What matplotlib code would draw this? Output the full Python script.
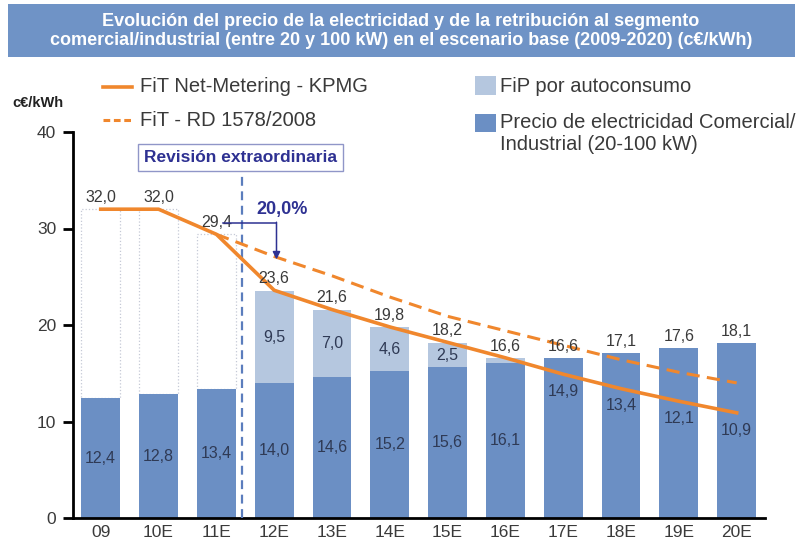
#!/usr/bin/env python3
"""Evolucion del precio de la electricidad vs retribucion (segmento comercial/industrial)."""

import matplotlib

matplotlib.use("Agg")
import matplotlib.pyplot as plt
import numpy as np
from matplotlib import font_manager
from matplotlib.lines import Line2D
from matplotlib.patches import Rectangle

plt.rcParams["font.family"] = ["Liberation Sans", "DejaVu Sans"]

YEARS = ["09", "10E", "11E", "12E", "13E", "14E", "15E", "16E", "17E", "18E", "19E", "20E"]
PRECIO = [12.4, 12.8, 13.4, 14.0, 14.6, 15.2, 15.6, 16.1, 16.6, 17.1, 17.6, 18.1]
FIP = [0.0, 0.0, 0.0, 9.5, 7.0, 4.6, 2.5, 0.5, 0.0, 0.0, 0.0, 0.0]
FIT_KPMG = [32.0, 32.0, 29.4, 23.6, 21.6, 19.8, 18.2, 16.6, 14.9, 13.4, 12.1, 10.9]
# RD 1578/2008 line, from 11E onward
FIT_RD = [29.4, 27.1, 25.1, 22.9, 20.9, 19.4, 17.9, 16.4, 15.1, 14.0]
TOP_LABELS = [32.0, 32.0, 29.4, 23.6, 21.6, 19.8, 18.2, 16.6, 16.6, 17.1, 17.6, 18.1]

DARK = "#6b8fc4"
LIGHT = "#b5c7df"
ORANGE = "#f0872d"
NAVY = "#2e3192"
VLINE = "#5b7dbd"
TXT = "#3a3a3a"
INNER = "#2f3a55"


def fmt(v):
    return f"{v:.1f}".replace(".", ",")


def narrow_font():
    try:
        font_manager.findfont("Liberation Sans Narrow", fallback_to_default=False)
        return ["Liberation Sans Narrow", "DejaVu Sans"]
    except Exception:
        return ["Liberation Sans", "DejaVu Sans"]


def main():
    W, H = 803, 542
    fig = plt.figure(figsize=(W / 100, H / 100), dpi=100)

    def fx(px):
        return px / W

    def fy(py):
        return 1 - py / H

    ax = fig.add_axes([fx(73), fy(518), (765 - 73) / W, (518 - 132) / H])
    x = np.arange(len(YEARS))
    precio = np.array(PRECIO)
    fip = np.array(FIP)
    kpmg = np.array(FIT_KPMG)
    bw = 0.67

    ax.bar(x, precio, width=bw, color=DARK, zorder=2)
    ax.bar(x, fip, bottom=precio, width=bw, color=LIGHT, zorder=2)
    # dotted outline boxes for the years without FiP
    ax.bar(x[:3], kpmg[:3] - precio[:3], bottom=precio[:3], width=bw, fill=False,
           edgecolor="#c5c9d6", linestyle=":", linewidth=0.9, zorder=1)

    ax.plot(x, kpmg, color=ORANGE, lw=2.6, zorder=4)
    ax.plot(x[2:], FIT_RD, color=ORANGE, lw=2.2, dashes=(4.3, 2.4), zorder=4)

    for i in x:
        ax.annotate(fmt(TOP_LABELS[i]), (i, TOP_LABELS[i]), xytext=(0, 3),
                    textcoords="offset points", ha="center", va="bottom",
                    fontsize=11.5, color=TXT, zorder=5)
        if i < 8:
            ax.text(i, precio[i] / 2, fmt(precio[i]), ha="center", va="center",
                    fontsize=11.5, color=INNER, zorder=5)
        if fip[i] >= 1:
            ax.text(i, precio[i] + fip[i] / 2, fmt(fip[i]), ha="center", va="center",
                    fontsize=11.5, color=INNER, zorder=5)
    for i in x[8:]:
        ax.annotate(fmt(kpmg[i]), (i, kpmg[i]), xytext=(0, -7),
                    textcoords="offset points", ha="center", va="top",
                    fontsize=11.5, color=INNER, zorder=5)

    # revision extraordinaria marker
    vx = 2.45
    ax.vlines(vx, 0, 35.7, color=VLINE, linestyles=(0, (4, 2.5)), lw=1.6, zorder=3)
    ax.text(2.42, 37.35, "Revisión extraordinaria", ha="center", va="center",
            fontsize=12.5, fontweight="bold", color=NAVY, zorder=6,
            bbox=dict(boxstyle="square,pad=0.33", fc="white", ec="#9096c8", lw=1))

    arrow_y = 30.6
    ax.plot([2.11, 3.04], [arrow_y, arrow_y], color=NAVY, lw=1.1, zorder=5)
    ax.annotate("", xy=(3.04, FIT_RD[1] - 0.3), xytext=(3.04, arrow_y + 0.05),
                arrowprops=dict(arrowstyle="-|>", color=NAVY, lw=1.1, mutation_scale=11,
                                shrinkA=0, shrinkB=0), zorder=5)
    ax.text(3.13, 32.0, "20,0%", ha="center", va="center", fontsize=13,
            fontweight="bold", color=NAVY, zorder=5)

    ax.set_xlim(-0.48, 11.49)
    ax.set_ylim(0, 40)
    ax.set_xticks(x, YEARS)
    ax.set_yticks([0, 10, 20, 30, 40])
    ax.tick_params(axis="x", length=0, pad=5, labelsize=12.5, labelcolor=TXT)
    ax.tick_params(axis="y", length=7, width=2, pad=5, labelsize=12.5, labelcolor=TXT)
    for s in ("top", "right"):
        ax.spines[s].set_visible(False)
    for s in ("left", "bottom"):
        ax.spines[s].set_linewidth(2)
    ax.patch.set_alpha(0)

    fig.text(fx(12), fy(103), "c€/kWh", fontsize=10.5, fontweight="bold", color="#222",
             ha="left", va="center")

    # title banner
    fig.add_artist(Rectangle((fx(8), fy(57)), (795 - 8) / W, (57 - 4) / H,
                             transform=fig.transFigure, fc="#6f93c6", ec="none"))
    title = ("Evolución del precio de la electricidad y de la retribución al segmento\n"
             "comercial/industrial (entre 20 y 100 kW) en el escenario base (2009-2020) (c€/kWh)")
    fig.text(fx(401), fy(31), title, ha="center", va="center", color="white",
             fontsize=13, fontweight="bold", family=narrow_font(), linespacing=1.2)

    # legend
    fig.add_artist(Line2D([fx(103), fx(132)], [fy(87), fy(87)], transform=fig.transFigure,
                          color=ORANGE, lw=2.6))
    fig.add_artist(Line2D([fx(103), fx(132)], [fy(120), fy(120)], transform=fig.transFigure,
                          color=ORANGE, lw=2.2, dashes=(2.2, 1.2)))
    fig.text(fx(140), fy(87), "FiT Net-Metering - KPMG", fontsize=14.5, color=TXT, va="center")
    fig.text(fx(140), fy(120), "FiT - RD 1578/2008", fontsize=14.5, color=TXT, va="center")

    fig.add_artist(Rectangle((fx(475), fy(95)), 21 / W, 19 / H, transform=fig.transFigure,
                             fc=LIGHT, ec="none"))
    fig.add_artist(Rectangle((fx(475), fy(132)), 21 / W, 18 / H, transform=fig.transFigure,
                             fc=DARK, ec="none"))
    fig.text(fx(500), fy(86), "FiP por autoconsumo", fontsize=14.5, color=TXT, va="center")
    fig.text(fx(500), fy(134), "Precio de electricidad Comercial/\nIndustrial (20-100 kW)",
             fontsize=14.5, color=TXT, va="center", linespacing=1.2)

    fig.savefig("out.png", dpi=100)
    plt.close(fig)


if __name__ == "__main__":
    main()
